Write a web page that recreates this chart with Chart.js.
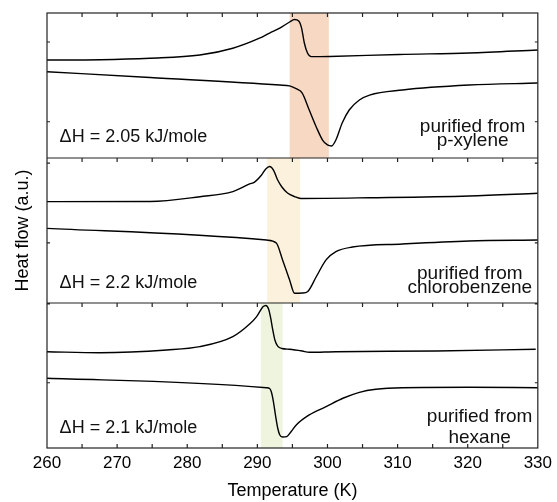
<!DOCTYPE html>
<html>
<head>
<meta charset="utf-8">
<script src="https://cdn.jsdelivr.net/npm/chart.js@4.4.1/dist/chart.umd.min.js"></script>
<style>
  body { margin: 0; background: #fff; }
</style>
</head>
<body>
<canvas id="dscChart" width="557" height="502"></canvas>
<script>
// DSC traces: [temperature (K), heat flow (a.u.)]
// heat flow runs 0..100 inside each panel, 0 = bottom edge of the panel
const xyleneUpper = [[260,67.6],[267.6,67.8],[274.7,68.8],[281.8,71.0],[286.5,75.7],[290.3,82.6],[291.75,86.2],[293.2,89.6],[294.6,93.8],[295.3,95.5],[295.9,94.5],[296.3,89.7],[296.7,79.3],[297.15,72.4],[297.7,69.9],[298.9,69.9],[300.3,70.0],[310.2,71.4],[320.2,72.4],[330,74.5]];
const xyleneLower = [[260,59.5],[274.7,55.5],[293.2,50.3],[294.6,49.7],[295.6,47.6],[296.4,44.8],[297.4,33.1],[298.4,21.4],[299.3,12.4],[300.0,9.0],[300.6,8.3],[301.2,12.4],[302.1,24.1],[303.1,33.1],[304.55,40.0],[306.0,43.4],[310.7,46.9],[320.2,50.3],[330,51.7]];

const chloroUpper = [[260,69.9],[274.7,70.0],[281.8,73.3],[286.5,76.8],[288.9,82.1],[289.6,83.4],[290.6,88.3],[291.2,92.4],[291.75,94.1],[292.3,91.7],[292.9,84.8],[293.5,80.0],[294.3,75.9],[295.3,73.4],[296.2,72.1],[306.0,72.6],[320.2,73.8],[330,75.7]];
const chloroLower = [[260,51.5],[291.3,43.4],[292.7,41.4],[293.6,29.7],[294.6,15.9],[295.3,6.7],[296.4,6.9],[297.15,7.8],[298.4,18.1],[299.8,29.7],[301.2,35.4],[303.55,38.6],[310.7,40.7],[320.2,42.8],[330,43.4]];

const hexaneUpper = [[260,66.4],[267.6,65.7],[277.1,67.6],[281.8,69.9],[286.5,76.8],[288.9,85.5],[289.9,90.6],[290.8,97.4],[291.2,98.3],[291.6,95.9],[291.9,89.7],[292.2,81.4],[292.5,74.5],[292.9,70.3],[293.5,68.6],[294.6,68.1],[296.4,66.9],[297.4,66.0],[301.2,66.4],[315.5,66.9],[329.7,68.1]];
const hexaneLower = [[260,48.1],[291.3,41.6],[291.75,41.0],[292.0,38.6],[292.3,31.7],[292.6,22.1],[292.9,13.8],[293.2,9.0],[293.6,7.6],[294.2,7.9],[294.8,11.2],[295.55,15.9],[297.4,22.8],[299.8,28.5],[302.2,34.3],[304.55,38.4],[306.9,40.5],[310.7,41.6],[320.2,41.9],[330,41.6]];

// one entry per panel, top to bottom
const solvents = ['p-xylene', 'chlorobenzene', 'hexane'];
const enthalpies = ['2.05', '2.2', '2.1'];
const bandFrom = [294.6, 291.4, 290.5];
const bandTo = [300.2, 296.1, 293.6];
const bandColors = ['#f7d9c3', '#fbf1dc', '#eff4df'];
const yTicks = [[80, 25], [96.5, 41.5], [99.3, 45]];
const panelBase = [200, 100, 0];

const tempTicks = [260, 265, 270, 275, 280, 285, 290, 295, 300, 305, 310, 315, 320, 325, 330];

const FONT = '"Liberation Sans", Arial, sans-serif';
Chart.defaults.font.family = FONT;
Chart.defaults.color = '#000';

const traces = [xyleneUpper, xyleneLower, chloroUpper, chloroLower, hexaneUpper, hexaneLower];
const datasets = traces.map((pts, i) => ({
  data: pts.map(([t, v]) => ({ x: t, y: v + panelBase[Math.floor(i / 2)] })),
  borderColor: '#000',
  borderWidth: 1.4,
  pointRadius: 0,
  cubicInterpolationMode: 'monotone',
  fill: false
}));

// bands, frames, inward ticks and the panel labels
const panelPlugin = {
  id: 'panels',
  beforeDatasetsDraw(chart) {
    const { ctx, scales: { x, y } } = chart;
    ctx.save();
    panelBase.forEach((base, i) => {
      const x0 = x.getPixelForValue(bandFrom[i]);
      const x1 = x.getPixelForValue(bandTo[i]);
      const top = y.getPixelForValue(base + 100);
      const bot = y.getPixelForValue(base);
      ctx.fillStyle = bandColors[i];
      ctx.fillRect(x0, top, x1 - x0, bot - top);
    });
    ctx.restore();
  },
  afterDatasetsDraw(chart) {
    const { ctx, chartArea: a, scales: { x, y } } = chart;
    ctx.save();
    ctx.strokeStyle = '#222';
    ctx.lineWidth = 1.2;
    ctx.strokeRect(a.left, a.top, a.right - a.left, a.bottom - a.top);

    ctx.beginPath();
    panelBase.forEach((base, i) => {
      const top = y.getPixelForValue(base + 100);
      if (i > 0) {
        ctx.moveTo(a.left, top);
        ctx.lineTo(a.right, top);
      }
      tempTicks.slice(1, -1).forEach(t => {
        const px = x.getPixelForValue(t);
        ctx.moveTo(px, top);
        ctx.lineTo(px, top + 4);
      });
      yTicks[i].forEach(v => {
        const py = y.getPixelForValue(base + v);
        ctx.moveTo(a.left, py);
        ctx.lineTo(a.left + 3, py);
        ctx.moveTo(a.right, py);
        ctx.lineTo(a.right - 3, py);
      });
    });
    tempTicks.slice(1, -1).forEach(t => {
      const px = x.getPixelForValue(t);
      ctx.moveTo(px, a.bottom);
      ctx.lineTo(px, a.bottom - 4);
    });
    ctx.stroke();

    ctx.fillStyle = '#111';
    ctx.textBaseline = 'alphabetic';
    const dhBase = [11.2, 10.1, 10.1];
    const line1 = [18.1, 16.3, 18.1];
    const line2 = [8.5, 6.7, 3.7];
    const labelCenter = [320.7, 320.3, 321.7];
    panelBase.forEach((base, i) => {
      ctx.font = '18px ' + FONT;
      ctx.textAlign = 'left';
      ctx.fillText('\u0394H = ' + enthalpies[i] + ' kJ/mole', x.getPixelForValue(261.8), y.getPixelForValue(base + dhBase[i]));
      ctx.font = '19px ' + FONT;
      ctx.textAlign = 'center';
      const cx = x.getPixelForValue(labelCenter[i]);
      ctx.fillText('purified from', cx, y.getPixelForValue(base + line1[i]));
      ctx.fillText(solvents[i], cx, y.getPixelForValue(base + line2[i]));
    });
    ctx.restore();
  }
};

new Chart(document.getElementById('dscChart'), {
  type: 'line',
  data: { datasets },
  options: {
    responsive: false,
    animation: false,
    layout: { padding: { top: 13, right: 18, left: 0, bottom: 0 } },
    plugins: { legend: { display: false }, tooltip: { enabled: false } },
    scales: {
      x: {
        type: 'linear',
        min: 260,
        max: 330,
        ticks: { stepSize: 10, padding: 5, font: { size: 17 }, color: '#000' },
        grid: { display: false, drawTicks: false },
        border: { display: false },
        title: { display: true, text: 'Temperature (K)', font: { size: 18 }, color: '#000', padding: { top: 0, bottom: 0 } },
        afterFit(scale) { scale.height = 54; }
      },
      y: {
        type: 'linear',
        min: 0,
        max: 300,
        ticks: { display: false },
        grid: { display: false, drawTicks: false },
        border: { display: false },
        title: { display: true, text: 'Heat flow (a.u.)', font: { size: 18 }, color: '#000', padding: { top: 12, bottom: 0 } },
        afterFit(scale) { scale.width = 47; }
      }
    }
  },
  plugins: [panelPlugin]
});
</script>
</body>
</html>
